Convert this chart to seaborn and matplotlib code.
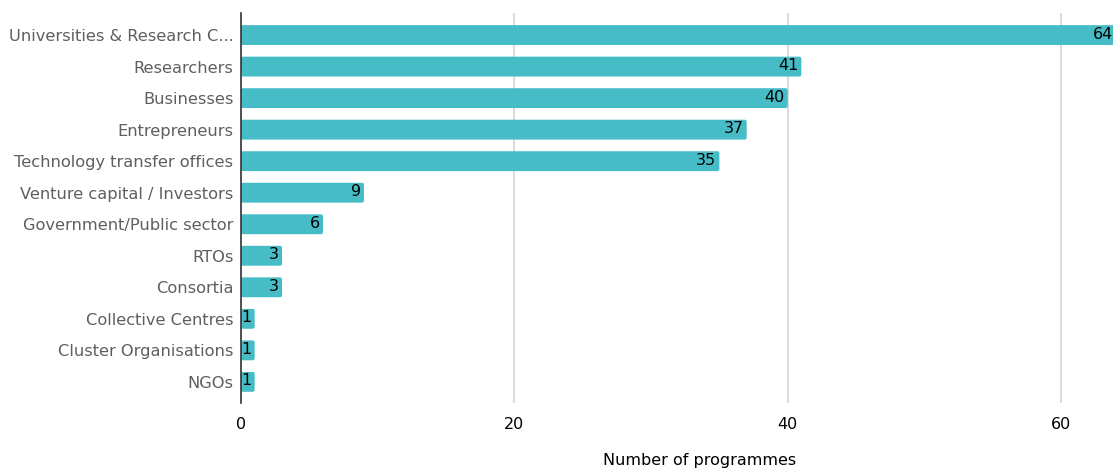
import matplotlib
matplotlib.use("Agg")
import matplotlib.pyplot as plt
from matplotlib.patches import FancyBboxPatch
import seaborn as sns
import pandas as pd

categories = [
    "Universities & Research C...",
    "Researchers",
    "Businesses",
    "Entrepreneurs",
    "Technology transfer offices",
    "Venture capital / Investors",
    "Government/Public sector",
    "RTOs",
    "Consortia",
    "Collective Centres",
    "Cluster Organisations",
    "NGOs",
]
programmes = [64, 41, 40, 37, 35, 9, 6, 3, 3, 1, 1, 1]
x_ticks = [0, 20, 40, 60]

BAR_COLOR = "#46BDC6"

sns.set_theme(style="white")
plt.rcParams["font.family"] = ["DejaVu Sans"]

df = pd.DataFrame({"category": categories, "programmes": programmes})

fig = plt.figure(figsize=(11.13, 4.68), dpi=100)
ax = fig.add_axes([241 / 1113, 1 - 403 / 468, (1113 - 241) / 1113, 390 / 468])

sns.barplot(data=df, y="category", x="programmes", color=BAR_COLOR,
            orient="h", width=0.63, saturation=1, ax=ax)

ax.set_xlim(0, 63.8)
ax.set_ylim(11.67, -0.7)

# swap the flat bars for slightly rounded ones
for p in list(ax.patches):
    x0, y0 = p.get_x(), p.get_y()
    w, h = p.get_width(), p.get_height()
    rb = FancyBboxPatch((x0, y0), w, h,
                        boxstyle="round,pad=0,rounding_size=0.15",
                        mutation_aspect=0.43, facecolor=BAR_COLOR,
                        edgecolor="none", zorder=2)
    p.remove()
    ax.add_patch(rb)

for i, v in enumerate(programmes):
    ax.annotate(str(v), xy=(v, i), xytext=(-3, 1), textcoords="offset pixels",
                ha="right", va="center", fontsize=11.5, color="#000000",
                zorder=4, annotation_clip=False)

ax.set_xticks(x_ticks)
ax.set_xticklabels([str(t) for t in x_ticks], fontsize=11.5, color="#000000")
ax.tick_params(axis="x", length=0, pad=10)
ax.tick_params(axis="y", length=0, pad=5.5, labelsize=11.7, labelcolor="#5f5f5f")
ax.set_xlabel("")
ax.set_ylabel("")

ax.xaxis.grid(True, color="#d4d4d4", linewidth=1.2)
ax.set_axisbelow(True)
for s in ["top", "right", "bottom"]:
    ax.spines[s].set_visible(False)
ax.spines["left"].set_color("#333333")
ax.spines["left"].set_linewidth(1.2)
ax.spines["left"].set_zorder(5)

fig.text(700 / 1113, 1 - 460 / 468, "Number of programmes",
         ha="center", va="center", fontsize=11.5, color="#000000")

fig.savefig("out.png", dpi=100)
